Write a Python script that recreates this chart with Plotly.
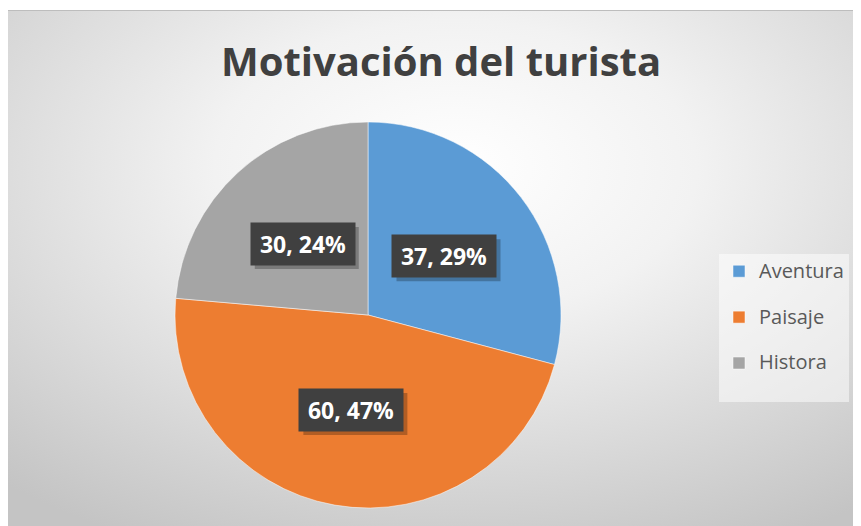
import math
import base64
import plotly.graph_objects as go

# ---- data ----
labels = ["Aventura", "Paisaje", "Histora"]
values = [37, 60, 30]
colors = ["#5B9BD5", "#ED7D31", "#A5A5A5"]
title_text = "Motivación del turista"

# ---- layout geometry (pixels, in the screenshot frame) ----
W, H = 861, 526
OFF = 8  # page body margin
CX, CY, R = 368, 315, 193
BG_X0, BG_Y0 = 8, 10
BOX_W, BOX_H = 104, 42

def px(x):
    return (x - OFF) / W

def py(y):
    return 1 - (y - OFF) / H

total = sum(values)

svg = (
    "<svg xmlns='http://www.w3.org/2000/svg' width='853' height='516' preserveAspectRatio='none'>"
    "<defs><radialGradient id='g' cx='0.52' cy='0.3' r='0.8'>"
    "<stop offset='0' stop-color='#ffffff'/>"
    "<stop offset='0.35' stop-color='#f2f2f2'/>"
    "<stop offset='1' stop-color='#c4c4c4'/>"
    "</radialGradient></defs>"
    "<rect width='100%' height='100%' fill='url(#g)'/></svg>"
)
bg_src = "data:image/svg+xml;base64," + base64.b64encode(svg.encode()).decode()

legend_labels = [f"<span style='font-size:20px'>{l}</span><br> " for l in labels]

fig = go.Figure()
fig.add_trace(go.Pie(
    labels=legend_labels,
    values=values,
    marker=dict(colors=colors, line=dict(color="white", width=0.5)),
    sort=False,
    direction="clockwise",
    rotation=0,
    textinfo="none",
    hovertext=labels,
    hoverinfo="text+value+percent",
    domain=dict(x=[px(CX - R), px(CX + R)], y=[py(CY + R), py(CY - R)]),
))

annotations = []
shapes = [dict(type="line", xref="paper", yref="paper", x0=px(BG_X0), x1=1,
               y0=py(BG_Y0 + 0.5), y1=py(BG_Y0 + 0.5),
               line=dict(color="#bdbdbd", width=1))]
cum = 0
for lab, v in zip(labels, values):
    mid = (cum + v / 2) / total * 2 * math.pi
    cum += v
    lx = CX + 0.5 * R * math.sin(mid)
    ly = CY - 0.5 * R * math.cos(mid)
    txt = f"{v}, {round(100 * v / total)}%"
    # shadow
    shapes.append(dict(type="rect", xref="paper", yref="paper", layer="above",
                       x0=px(lx - BOX_W / 2 + 4), x1=px(lx + BOX_W / 2 + 4),
                       y0=py(ly + BOX_H / 2 + 4), y1=py(ly - BOX_H / 2 + 4),
                       fillcolor="rgba(0,0,0,0.25)", line=dict(width=0)))
    annotations.append(dict(xref="paper", yref="paper", x=px(lx), y=py(ly),
                            xanchor="center", yanchor="middle", showarrow=False,
                            width=BOX_W - 14, height=BOX_H - 14, borderpad=7, text=txt,
                            bgcolor="#404040",
                            font=dict(family="Open Sans", size=23, color="white", weight="bold")))

fig.update_layout(
    width=W, height=H,
    margin=dict(l=0, r=0, t=0, b=0),
    paper_bgcolor="white",
    plot_bgcolor="rgba(0,0,0,0)",
    title=dict(text=title_text, x=px(441), xanchor="center", y=py(62), yanchor="middle",
               font=dict(family="Open Sans", size=40, color="#404040", weight="bold")),
    images=[dict(source=bg_src, xref="paper", yref="paper", x=px(BG_X0), y=py(BG_Y0),
                 sizex=1 - px(BG_X0), sizey=py(BG_Y0), sizing="stretch",
                 xanchor="left", yanchor="top", layer="below")],
    shapes=shapes,
    legend=dict(x=px(719), y=py(254), xanchor="left", yanchor="top",
                bgcolor="rgba(255,255,255,0.5)", valign="top",
                font=dict(family="Open Sans", size=16.5, color="#595959")),
    annotations=annotations,
)

fig.write_html("out.html")
